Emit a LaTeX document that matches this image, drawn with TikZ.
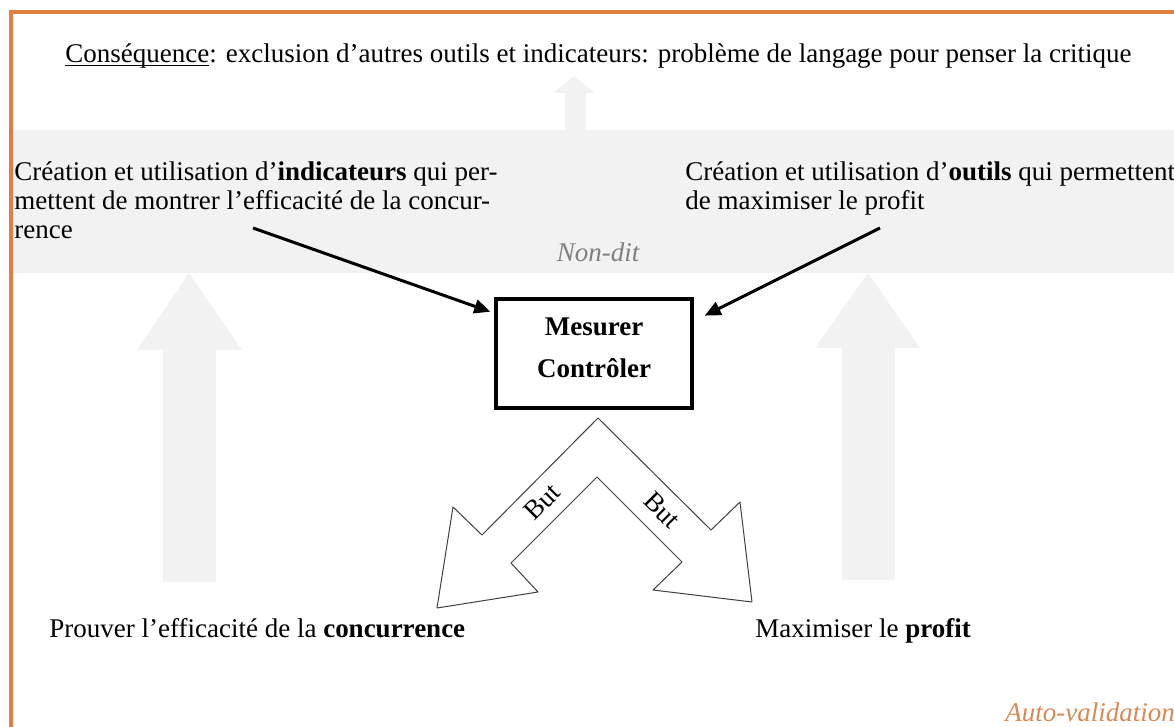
\documentclass[tikz,border=0pt]{standalone}
\usepackage{fontspec}
\setmainfont{Liberation Serif}
\usepackage{tikz}
\usetikzlibrary{arrows.meta,calc}
\usepackage{tkz-euclide}
\usepackage{xcolor}
\definecolor{FrameOrange}{HTML}{E07F3E}
\definecolor{ValidOrange}{HTML}{D88A55}
\definecolor{ShadeGrey}{HTML}{F2F2F2}
\definecolor{HintGrey}{HTML}{808080}

\tikzset{
  txt/.style={inner sep=0pt,font=\fontsize{13.5}{14.5}\selectfont,align=left},
  hint/.style={txt,font=\fontsize{13.5}{14.5}\selectfont\itshape},
  feed/.style={line width=1.5pt,-{Triangle[length=8pt,width=7pt]}},
}

\begin{document}
\begin{tikzpicture}[x=0.5pt,y=-0.5pt]
    \useasboundingbox (0,0) rectangle (1174,727);
    \fill[ShadeGrey] (12,130) rectangle (1174,273);
    \draw[FrameOrange,line width=2pt] (11,727) -- (11,12) -- (1174,12);

    \fill[ShadeGrey] (574,76) -- (595,93) -- (586,93) -- (586,130) -- (565,130) -- (565,93) -- (553,93) -- cycle;
    \fill[ShadeGrey] (189,273) -- (242,350) -- (216,350) -- (216,582) -- (163,582) -- (163,350) -- (137,350) -- cycle;
    \fill[ShadeGrey] (868,273) -- (920,348) -- (895,348) -- (895,580) -- (842,580) -- (842,348) -- (815,348) -- cycle;

    \node[txt,anchor=base west] (conseq) at (65,63) {\underline{\smash{Conséquence}}: exclusion d’autres outils et indicateurs: problème de langage pour penser la critique};
    \node[txt,anchor=north west] (indic) at (14,161) {Création et utilisation d’\textbf{indicateurs} qui per-\\mettent de montrer l’efficacité de la concur-\\rence};
    \node[txt,anchor=north west] (outil) at (685,161) {Création et utilisation d’\textbf{outils} qui permettent\\de maximiser le profit};
    \node[hint,text=HintGrey,anchor=base] (nondit) at (598,262) {Non-dit};

    \node[draw,line width=2pt,minimum width=98pt,minimum height=54.5pt,inner sep=0pt,align=center,
          font=\bfseries\fontsize{13.5}{21}\selectfont] (mesure) at (594,353.5) {Mesurer\\Contrôler\rule[-6pt]{0pt}{6pt}};

    \coordinate (indic-foot) at (253,228);
    \coordinate (outil-foot) at (880,228);
    \draw[feed,shorten >=2pt] (indic-foot) -- (mesure.158);
    \draw[feed,shorten >=6pt] (outil-foot) -- (mesure.18);

    \tkzDefPoint(598,418){A}
    \tkzDefPoint(482,535){B}
    \tkzDefPoint(453,507){C}
    \tkzDefPoint(437,608){D}
    \tkzDefPoint(538,592){E}
    \tkzDefPoint(511,563){F}
    \tkzDefPoint(597,477){G}
    \tkzDefPoint(682,562){H}
    \tkzDefPoint(653,590){I}
    \tkzDefPoint(752,602){J}
    \tkzDefPoint(740,502){K}
    \tkzDefPoint(711,530){L}
    \tkzDrawPolygon[line width=0.5pt,color=black!75,fill=white](A,B,C,D,E,F,G,H,I,J,K,L)

    \node[txt,rotate=45] (but-left) at (542,502) {But};
    \node[txt,rotate=-45] (but-right) at (662,510) {But};

    \node[txt,anchor=base west] (concur) at (49,637) {Prouver l’efficacité de la \textbf{concurrence}};
    \node[txt,anchor=base west] (profit) at (755,637) {Maximiser le \textbf{profit}};
    \node[hint,text=ValidOrange,anchor=base west] (autoval) at (1005,721) {Auto-validation};
\end{tikzpicture}
\end{document}
